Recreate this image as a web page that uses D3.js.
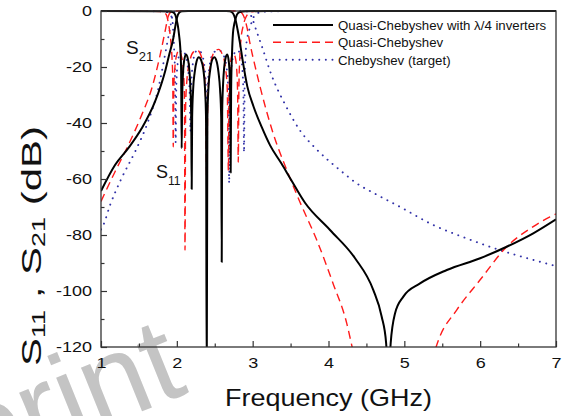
<!DOCTYPE html>
<html>
<head>
<meta charset="utf-8">
<script src="https://cdn.jsdelivr.net/npm/d3@7"></script>
<style>
  body { margin: 0; background: #fff; }
  text { font-family: "Liberation Sans", Arial, sans-serif; }
</style>
</head>
<body>
<div id="chart"></div>
<script>
// ---- data (frequency GHz, dB) ----
const xTicks = [1, 2, 3, 4, 5, 6, 7];
const xMinor = [1.5, 2.5, 3.5, 4.5, 5.5, 6.5];
const yTicks = [0, -20, -40, -60, -80, -100, -120];
const yMinor = [-10, -30, -50, -70, -90, -110];

const seriesNames = ["Quasi-Chebyshev with \u03bb/4 inverters", "Quasi-Chebyshev", "Chebyshev (target)"];

const blackS21 = [
  [1.0, -64.3], [1.185, -55], [1.36, -49], [1.537, -41.9], [1.712, -32.4], [1.844, -21.7], [1.90, -15.5],
  [1.953, -9.8], [1.98, -5.5], [2.0, -2.6], [2.03, -0.6], [2.07, -0.1], [2.15, 0], [2.65, 0], [2.70, -0.1],
  [2.74, -0.8], [2.77, -2.8], [2.80, -6.5], [2.83, -11], [2.87, -18], [2.93, -27], [3.01, -34], [3.12, -41.5],
  [3.23, -48], [3.38, -54.5], [3.50, -60], [3.69, -68.5], [4.02, -78.2], [4.35, -88.3], [4.59, -99.6],
  [4.70, -109], [4.76, -118.6], [4.79, -132], [4.82, -118.6], [4.877, -108], [4.987, -102], [5.207, -97.3],
  [5.56, -92.5], [6.0, -88.3], [6.35, -84.2], [6.70, -79.4], [7.0, -74.4]
];
const blackS11 = [
  [1.0, 0], [1.8, -0.05], [1.9, -0.15], [1.953, -0.5], [1.98, -1.4], [2.0, -3.4], [2.015, -5.5], [2.03, -8.7],
  [2.045, -13], [2.056, -20], [2.064, -49],
  [2.07, -32], [2.08, -23], [2.095, -18], [2.12, -15.5], [2.145, -17], [2.165, -21], [2.18, -28], [2.19, -38], [2.196, -63.6],
  [2.202, -38], [2.215, -28], [2.235, -22], [2.26, -18], [2.29, -16.5], [2.32, -17.5], [2.35, -21], [2.37, -27], [2.385, -38], [2.394, -135],
  [2.403, -38], [2.418, -27], [2.44, -21], [2.465, -17.5], [2.494, -16.5], [2.525, -18], [2.55, -22], [2.57, -28], [2.585, -38], [2.592, -89.6],
  [2.598, -36], [2.61, -26], [2.625, -20], [2.645, -16.5], [2.665, -15.5], [2.685, -18], [2.698, -24], [2.705, -33], [2.71, -57.7],
  [2.716, -28], [2.728, -15], [2.74, -8], [2.755, -5], [2.77, -3.2], [2.785, -1.8], [2.80, -1.0], [2.83, -0.35],
  [2.9, -0.1], [3.2, -0.02], [7.0, 0]
];

const redS21 = [
  [1.0, -68], [1.185, -57.4], [1.36, -47.9], [1.537, -37.1], [1.67, -27.6], [1.78, -15.7], [1.844, -7.4],
  [1.888, -1.8], [1.92, -0.4], [1.96, -0.05], [2.0, 0], [2.78, 0], [2.82, -0.1], [2.85, -0.5], [2.87, -1.2],
  [2.90, -3.2], [2.93, -6.5], [2.964, -11.5], [3.03, -19.5], [3.097, -27], [3.18, -35.5], [3.27, -43.7],
  [3.45, -56.8], [3.62, -68], [3.845, -81.8], [4.06, -97.3], [4.24, -111.5], [4.306, -119.3], [4.36, -126],
  [4.9, -160], [5.35, -126], [5.45, -117.5], [5.69, -106.8], [6.0, -96], [6.35, -84.2], [6.7, -77],
  [6.92, -73.5], [7.0, -72.5]
];
const redS11 = [
  [1.0, 0], [1.7, -0.1], [1.8, -0.25], [1.844, -0.8], [1.87, -2], [1.888, -4.2], [1.905, -7], [1.92, -10.5],
  [1.935, -16], [1.946, -24], [1.953, -48.5],
  [1.96, -28], [1.975, -20], [2.0, -15.5], [2.03, -14], [2.06, -16], [2.085, -21], [2.1, -30], [2.108, -85.4],
  [2.116, -34], [2.135, -24], [2.17, -18], [2.22, -14.6], [2.27, -14], [2.32, -16], [2.36, -22], [2.38, -32], [2.394, -60],
  [2.408, -32], [2.43, -22], [2.47, -16], [2.51, -14.2], [2.55, -13.7], [2.60, -15.5], [2.64, -20], [2.665, -28], [2.68, -57],
  [2.688, -30], [2.70, -22], [2.72, -16.5], [2.745, -15], [2.77, -16.5], [2.79, -21], [2.802, -30], [2.81, -54],
  [2.818, -28], [2.83, -17], [2.85, -9], [2.87, -5.9], [2.89, -3.7], [2.90, -2.9], [2.93, -1.3], [2.964, -0.4],
  [3.05, -0.1], [7.0, 0]
];

const blueS21 = [
  [1.0, -78], [1.03, -76.5], [1.12, -69.3], [1.27, -59.8], [1.45, -50.2], [1.62, -39.5], [1.756, -27.6],
  [1.844, -15.7], [1.91, -6.2], [1.953, -0.8], [1.975, -0.2], [2.0, 0], [2.88, 0], [2.93, -0.2], [2.965, -1.0],
  [3.0, -3], [3.03, -5.5], [3.12, -12.5], [3.25, -23], [3.43, -33.5], [3.62, -42.5], [3.85, -49.6],
  [4.15, -56.8], [4.37, -61.5], [4.63, -65.5], [4.94, -69.9], [5.38, -76.4], [5.82, -81.2], [6.26, -85.4],
  [6.70, -88.9], [7.0, -91.1]
];
const blueS11 = [
  [1.0, 0], [1.8, -0.1], [1.87, -0.4], [1.91, -1.2], [1.94, -3], [1.953, -7.7], [1.965, -14], [1.975, -22], [1.985, -47],
  [1.993, -27], [2.01, -19], [2.04, -15], [2.07, -14], [2.11, -15.5], [2.145, -20], [2.168, -28], [2.18, -43],
  [2.19, -27], [2.21, -19], [2.25, -14.5], [2.29, -14], [2.33, -15.5], [2.365, -20], [2.385, -29], [2.395, -45],
  [2.405, -29], [2.43, -20], [2.48, -15], [2.55, -14], [2.61, -15.5], [2.655, -20], [2.68, -29], [2.69, -61.5],
  [2.70, -29], [2.72, -20], [2.76, -15], [2.80, -14], [2.84, -16], [2.865, -21], [2.878, -30], [2.886, -50.5],
  [2.895, -24], [2.91, -14], [2.93, -9.5], [2.965, -5.9], [3.0, -3], [3.03, -1.4], [3.08, -0.6], [3.15, -0.25],
  [3.4, -0.05], [7.0, 0]
];

// ---- layout ----
const W = 572, H = 416;
const margin = { top: 11, right: 16, bottom: 69, left: 101 };
const iw = W - margin.left - margin.right;
const ih = H - margin.top - margin.bottom;

const svg = d3.select("#chart").append("svg")
  .attr("width", W).attr("height", H);

// watermark (behind everything)
svg.append("text")
  .attr("transform", "translate(190,392) rotate(-22)")
  .attr("text-anchor", "end")
  .attr("font-size", 120)
  .attr("fill", "#c4c4c4")
  .text("Preprint");

const g = svg.append("g").attr("transform", `translate(${margin.left},${margin.top})`);

const x = d3.scaleLinear().domain([1, 7]).range([0, iw]);
const y = d3.scaleLinear().domain([-120, 0]).range([ih, 0]);

g.append("defs").append("clipPath").attr("id", "plot-clip")
  .append("rect").attr("x", 0).attr("y", -2).attr("width", iw).attr("height", ih + 2);

const line = d3.line()
  .x(d => x(d[0]))
  .y(d => y(d[1]))
  .curve(d3.curveMonotoneX);

const styles = [
  { stroke: "#000", width: 2, dash: null, cap: "butt" },
  { stroke: "#ff1a1a", width: 1.4, dash: "8,5", cap: "butt" },
  { stroke: "#3232a8", width: 1.9, dash: "0.1,6.5", cap: "round" }
];

const curves = [
  { data: blueS21, s: 2 }, { data: blueS11, s: 2 },
  { data: redS21, s: 1 }, { data: redS11, s: 1 },
  { data: blackS21, s: 0 }, { data: blackS11, s: 0 }
];

const plot = g.append("g").attr("clip-path", "url(#plot-clip)");
plot.selectAll("path.curve")
  .data(curves)
  .enter().append("path")
  .attr("class", "curve")
  .attr("d", d => line(d.data))
  .attr("fill", "none")
  .attr("stroke", d => styles[d.s].stroke)
  .attr("stroke-width", d => styles[d.s].width)
  .attr("stroke-dasharray", d => styles[d.s].dash)
  .attr("stroke-linecap", d => styles[d.s].cap)
  .attr("stroke-linejoin", "round");

// ---- axes (ticks inward) ----
const axisColor = "#333";
const xAxis = g.append("g").attr("transform", `translate(0,${ih})`)
  .call(d3.axisBottom(x).tickValues(xTicks).tickSize(-6).tickPadding(10.4).tickFormat(d3.format("d")));
g.append("g").attr("transform", `translate(0,${ih})`)
  .call(d3.axisBottom(x).tickValues(xMinor).tickSize(-3.5).tickFormat(""));
const yAxis = g.append("g")
  .call(d3.axisLeft(y).tickValues(yTicks).tickSize(-6).tickPadding(7.5).tickFormat(d => d));
g.append("g")
  .call(d3.axisLeft(y).tickValues(yMinor).tickSize(-3.5).tickFormat(""));

g.selectAll(".domain").remove();
g.selectAll(".tick line").attr("stroke", axisColor).attr("stroke-width", 1.2);
g.selectAll(".tick text")
  .attr("fill", "#111")
  .attr("font-size", 15)
  .attr("font-family", "'Liberation Sans', Arial, sans-serif")
  .attr("transform", "scale(1.2,1)");

// frame
g.append("rect")
  .attr("width", iw).attr("height", ih)
  .attr("fill", "none").attr("stroke", axisColor).attr("stroke-width", 1.3);

// ---- annotations ----
function subLabel(px, py, size, main, sub, subSize, subDy) {
  const t = svg.append("text").attr("x", px).attr("y", py).attr("font-size", size).attr("fill", "#111");
  t.append("tspan").text(main);
  t.append("tspan").attr("font-size", subSize).attr("dy", subDy).text(sub);
  return t;
}
subLabel(126, 54, 19, "S", "21", 13, 7);
subLabel(156, 178, 18, "S", "11", 12, 7);

// axis titles (stretched to the width seen in the figure)
function fit(sel, target) {
  const w = sel.node().getBBox().width;
  return target / w;
}

const xt = svg.append("g").attr("transform", `translate(${margin.left + iw / 2},406)`);
const xTitle = xt.append("text").attr("text-anchor", "middle").attr("font-size", 23).attr("fill", "#111")
  .text("Frequency (GHz)");
xTitle.attr("transform", `scale(${fit(xTitle, 207)},1)`);

const yt = svg.append("g").attr("transform", "translate(41,246) rotate(-90)");
const yTitle = yt.append("text").attr("text-anchor", "middle").attr("font-size", 28).attr("fill", "#111");
yTitle.append("tspan").text("S");
yTitle.append("tspan").attr("font-size", 18).attr("dy", 4).text("11");
yTitle.append("tspan").attr("dy", -4).text(" , S");
yTitle.append("tspan").attr("font-size", 18).attr("dy", 4).text("21");
yTitle.append("tspan").attr("dy", -4).text(" (dB)");
yTitle.attr("transform", `scale(${fit(yTitle, 240)},1)`);

// ---- legend ----
const legend = svg.append("g");
const rowsY = [25, 42.3, 59.8];
const rows = legend.selectAll("g.row")
  .data(seriesNames)
  .enter().append("g")
  .attr("class", "row")
  .attr("transform", (d, i) => `translate(273,${rowsY[i]})`);
rows.append("line")
  .attr("x1", 0).attr("x2", 60)
  .attr("stroke", (d, i) => styles[i].stroke)
  .attr("stroke-width", (d, i) => styles[i].width)
  .attr("stroke-dasharray", (d, i) => styles[i].dash)
  .attr("stroke-linecap", (d, i) => styles[i].cap);
const legText = rows.append("text")
  .attr("x", 0).attr("y", 0)
  .attr("font-size", 13)
  .attr("fill", "#111")
  .text(d => d);
const ls = fit(d3.select(legText.nodes()[0]), 209);
legText.attr("transform", `translate(65,5) scale(${ls},1)`);
</script>
</body>
</html>
